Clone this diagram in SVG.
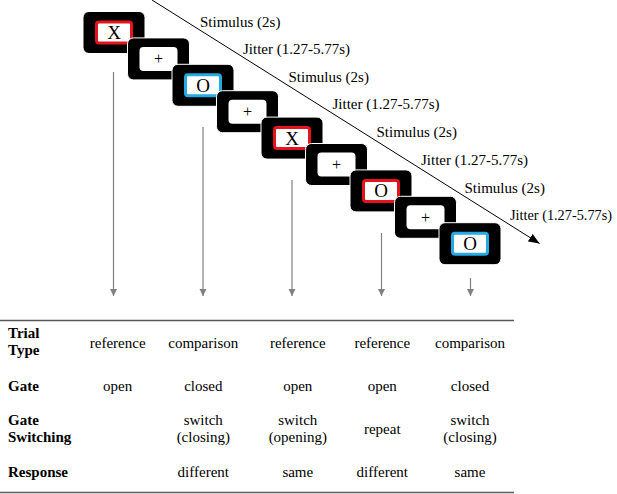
<svg xmlns="http://www.w3.org/2000/svg" width="617" height="494" viewBox="0 0 617 494">
<style>
.scr{fill:#000;stroke:#fff;stroke-width:1}
.inW{fill:#fff}
.inR{fill:#fff;stroke:#e3141c;stroke-width:3}
.inB{fill:#fff;stroke:#27a9e1;stroke-width:3}
text{font-family:'Liberation Serif',serif;fill:#000}
.sym{font-size:19px;text-anchor:middle}
.plus{font-size:16px;text-anchor:middle}
.lab{font-size:15px}
.hd{font-size:15px;font-weight:bold}
.val{font-size:15px;text-anchor:middle}
.ga{stroke:#808080;stroke-width:1.2;fill:none}
.rule{stroke:#5a5a5a;stroke-width:1.5}
</style>
<defs>
<marker id="gh" markerUnits="userSpaceOnUse" markerWidth="8" markerHeight="8" refX="7" refY="3.5" orient="auto"><path d="M0,0 L7,3.5 L0,7 z" fill="#808080"/></marker>
<marker id="bh" markerUnits="userSpaceOnUse" markerWidth="12" markerHeight="10" refX="11" refY="4.5" orient="auto"><path d="M0,0 L11,4.5 L0,9 z" fill="#000"/></marker>
</defs>
<rect width="617" height="494" fill="#fff"/>

<g id="timeline">
<line x1="152" y1="0" x2="539.5" y2="243.5" stroke="#000" stroke-width="1" marker-end="url(#bh)"/>
</g>

<g id="labels">
<text class="lab" x="200" y="26.5">Stimulus (2s)</text>
<text class="lab" x="243" y="53.5">Jitter (1.27-5.77s)</text>
<text class="lab" x="288.5" y="81.5">Stimulus (2s)</text>
<text class="lab" x="332.5" y="108.5">Jitter (1.27-5.77s)</text>
<text class="lab" x="376.5" y="136.7">Stimulus (2s)</text>
<text class="lab" x="421" y="165">Jitter (1.27-5.77s)</text>
<text class="lab" x="464.5" y="192.7">Stimulus (2s)</text>
<text class="lab" x="510" y="220" textLength="102" lengthAdjust="spacingAndGlyphs">Jitter (1.27-5.77s)</text>
</g>

<g id="connectors">
<line class="ga" x1="113.5" y1="72" x2="113.5" y2="296" marker-end="url(#gh)"/>
<line class="ga" x1="203" y1="127" x2="203" y2="296" marker-end="url(#gh)"/>
<line class="ga" x1="292" y1="180" x2="292" y2="296" marker-end="url(#gh)"/>
<line class="ga" x1="381.5" y1="233" x2="381.5" y2="296" marker-end="url(#gh)"/>
<line class="ga" x1="470.5" y1="278" x2="470.5" y2="296" marker-end="url(#gh)"/>
</g>

<g id="screen1" transform="translate(114,32.5)">
<rect class="scr" x="-31" y="-21" width="62" height="42" rx="6"/>
<rect class="inR" x="-17.5" y="-10.5" width="35" height="21" rx="2.5"/>
<text class="sym" x="0" y="6.5">X</text>
</g>
<g id="screen2" transform="translate(158.5,58.9)">
<rect class="scr" x="-31" y="-21" width="62" height="42" rx="6"/>
<rect class="inW" x="-19" y="-12" width="38" height="24" rx="4"/>
<text class="plus" x="0" y="5.5">+</text>
</g>
<g id="screen3" transform="translate(203,85.3)">
<rect class="scr" x="-31" y="-21" width="62" height="42" rx="6"/>
<rect class="inB" x="-17.5" y="-10.5" width="35" height="21" rx="2.5"/>
<text class="sym" x="0" y="6.5">O</text>
</g>
<g id="screen4" transform="translate(247.5,111.7)">
<rect class="scr" x="-31" y="-21" width="62" height="42" rx="6"/>
<rect class="inW" x="-19" y="-12" width="38" height="24" rx="4"/>
<text class="plus" x="0" y="5.5">+</text>
</g>
<g id="screen5" transform="translate(292,138.1)">
<rect class="scr" x="-31" y="-21" width="62" height="42" rx="6"/>
<rect class="inR" x="-17.5" y="-10.5" width="35" height="21" rx="2.5"/>
<text class="sym" x="0" y="6.5">X</text>
</g>
<g id="screen6" transform="translate(336.5,164.5)">
<rect class="scr" x="-31" y="-21" width="62" height="42" rx="6"/>
<rect class="inW" x="-19" y="-12" width="38" height="24" rx="4"/>
<text class="plus" x="0" y="5.5">+</text>
</g>
<g id="screen7" transform="translate(381,190.9)">
<rect class="scr" x="-31" y="-21" width="62" height="42" rx="6"/>
<rect class="inR" x="-17.5" y="-10.5" width="35" height="21" rx="2.5"/>
<text class="sym" x="0" y="6.5">O</text>
</g>
<g id="screen8" transform="translate(425.5,217.3)">
<rect class="scr" x="-31" y="-21" width="62" height="42" rx="6"/>
<rect class="inW" x="-19" y="-12" width="38" height="24" rx="4"/>
<text class="plus" x="0" y="5.5">+</text>
</g>
<g id="screen9" transform="translate(470,243.7)">
<rect class="scr" x="-31" y="-21" width="62" height="42" rx="6"/>
<rect class="inB" x="-17.5" y="-10.5" width="35" height="21" rx="2.5"/>
<text class="sym" x="0" y="6.5">O</text>
</g>

<g id="table">
<line class="rule" x1="0" y1="320.5" x2="514" y2="320.5"/>
<line class="rule" x1="0" y1="492.5" x2="514" y2="492.5"/>
<text class="hd" x="8" y="338.3">Trial</text>
<text class="hd" x="8" y="355">Type</text>
<text class="hd" x="8" y="391">Gate</text>
<text class="hd" x="8" y="425">Gate</text>
<text class="hd" x="8" y="441.7">Switching</text>
<text class="hd" x="8" y="476.7">Response</text>

<text class="val" x="117.7" y="347.5">reference</text>
<text class="val" x="203.3" y="347.5">comparison</text>
<text class="val" x="297.8" y="347.5">reference</text>
<text class="val" x="382.3" y="347.5">reference</text>
<text class="val" x="470" y="347.5">comparison</text>

<text class="val" x="117.7" y="391">open</text>
<text class="val" x="203.3" y="391">closed</text>
<text class="val" x="297.8" y="391">open</text>
<text class="val" x="382.3" y="391">open</text>
<text class="val" x="470" y="391">closed</text>

<text class="val" x="203.3" y="424.5">switch</text>
<text class="val" x="203.3" y="441.5">(closing)</text>
<text class="val" x="297.8" y="424.5">switch</text>
<text class="val" x="297.8" y="441.5">(opening)</text>
<text class="val" x="382.3" y="434">repeat</text>
<text class="val" x="470" y="424.5">switch</text>
<text class="val" x="470" y="441.5">(closing)</text>

<text class="val" x="203.3" y="477">different</text>
<text class="val" x="297.8" y="477">same</text>
<text class="val" x="382.3" y="477">different</text>
<text class="val" x="470" y="477">same</text>
</g>
</svg>
